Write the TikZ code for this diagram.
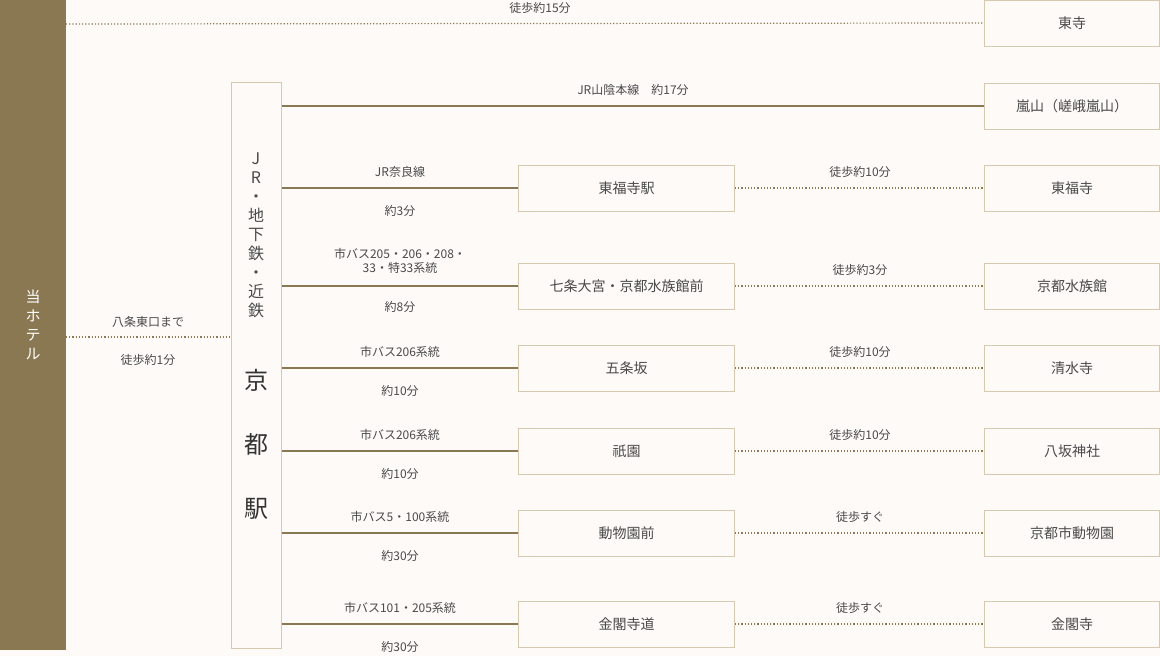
\documentclass[tikz,border=0pt]{standalone}
\usepackage{fontspec}
\setmainfont{Noto Sans CJK JP}
\definecolor{bg}{HTML}{FDFAF8}
\definecolor{brn}{HTML}{8A7853}
\definecolor{bd}{HTML}{D6C9B0}
\definecolor{tx}{HTML}{4A4A4A}
\begin{document}
\begin{tikzpicture}[x=1pt,y=-1pt,
  box/.style={draw=bd,fill=bg,line width=1pt,minimum width=175pt,minimum height=46pt,inner sep=0pt,font=\fontsize{14}{14}\selectfont,text=tx},
  mbox/.style={box,minimum width=216pt},
  lab/.style={font=\fontsize{12}{14}\selectfont,text=tx,align=center,inner sep=0pt},
  rail/.style={draw=brn,line width=2pt},
  walk/.style={draw=brn,line width=1.2pt,dotted}]
\fill[bg] (0,0) rectangle (1160,656);
\useasboundingbox (0,0) rectangle (1160,656);
\fill[brn] (0,0) rectangle (66,650);
\node[text=white,font=\fontsize{15}{19}\selectfont,align=center] (hotel) at (33,325) {当\\ホ\\テ\\ル};
\coordinate (hr) at (66,24);
\coordinate (hm) at (66,337);
% station
\node[draw=bd,fill=bg,line width=1pt,minimum width=50pt,minimum height=566pt,inner sep=0pt] (st) at (256,365) {};
\node[text=tx,font=\fontsize{16}{19}\selectfont,align=center] (stl) at (256,235) {J\\R\\・\\地\\下\\鉄\\・\\近\\鉄};
\node[text=black!80,font=\fontsize{24}{64}\selectfont,align=center] (stk) at (256,444) {京\\都\\駅};
% top
\node[box] (toji) at (1072,23) {東寺};
\draw[walk] (hr) -- (toji.west);
\node[lab] (l0) at (540,8) {徒歩約{\large 15}分};
\draw[walk] (hm) -- (st.west|-hm);
\node[lab] (la) at (148,322) {八条東口まで};
\node[lab] (lb) at (148,360) {徒歩約{\large 1}分};
% arashiyama
\node[box] (ara) at (1072,106) {嵐山（嵯峨嵐山）};
\draw[rail] (st.east|-ara) -- (ara.west);
\node[lab] (l1) at (633,90) {JR山陰本線　約{\large 17}分};
% rows
\foreach \y/\m/\r/\a/\b/\w/\n in {
 188/東福寺駅/東福寺/JR奈良線/約{\large 3}分/徒歩約{\large 10}分/r1,
 368/五条坂/清水寺/市バス206系統/約{\large 10}分/徒歩約{\large 10}分/r3,
 451/祇園/八坂神社/市バス206系統/約{\large 10}分/徒歩約{\large 10}分/r4,
 533/動物園前/京都市動物園/市バス5・100系統/約{\large 30}分/徒歩{\large すぐ}/r5,
 624/金閣寺道/金閣寺/市バス101・205系統/約{\large 30}分/徒歩{\large すぐ}/r6}{
 \node[mbox] (\n m) at (626.5,\y) {\m};
 \node[box] (\n r) at (1072,\y) {\r};
 \draw[rail] (st.east|-\n m) -- (\n m.west);
 \draw[walk] (\n m.east) -- (\n r.west);
 \node[lab] (\n a) at (400,\y-16) {\a};
 \node[lab] (\n b) at (400,\y+23) {\b};
 \node[lab] (\n w) at (860,\y-16) {\w};
}
\node[mbox] (r2m) at (626.5,286) {七条大宮・京都水族館前};
\node[box] (r2r) at (1072,286) {京都水族館};
\draw[rail] (st.east|-r2m) -- (r2m.west);
\draw[walk] (r2m.east) -- (r2r.west);
\node[lab] (r2a) at (400,261) {市バス205・206・208・\\33・特33系統};
\node[lab] (r2b) at (400,307) {約{\large 8}分};
\node[lab] (r2w) at (860,270) {徒歩約{\large 3}分};
\end{tikzpicture}
\end{document}
